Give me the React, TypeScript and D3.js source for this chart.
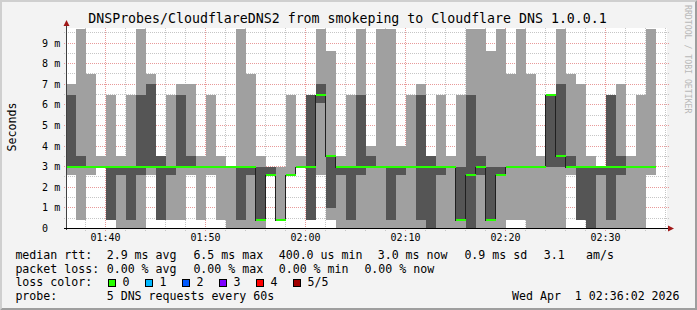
import React from "react";
import * as d3 from "d3";

const W = 697;
const H = 310;
const FONT = "'DejaVu Sans Mono', monospace";

const titleText = "DNSProbes/CloudflareDNS2 from smokeping to Cloudflare DNS 1.0.0.1";
const yAxisTitle = "Seconds";
const watermark = "RRDTOOL / TOBI OETIKER";

// time frame
const firstSample = new Date(2026, 3, 1, 1, 36, 0);
const graphStart = new Date(2026, 3, 1, 1, 36, 9);
const graphEnd = new Date(2026, 3, 1, 2, 36, 9);

// sorted pings per minute (ms): ping1 = fastest ... ping5 = slowest, ping3 = median
const ping1 = [2.6, 0.4, 2.6, 3.0, 0.4, 0, 0, 0, 2.6, 0.4, 0.4, 0.4, 2.6, 0.4, 2.6,
  0.4, 0, 0, 0, 0, 2.6, 0.4, 2.6, 3.0, 0.4, 2.6, 0.4, 0, 0,
  0, 0, 0, 0, 0, 0, 0, 0, 0, 0, 0, 0, 0, 0, 0,
  0.4, 0.4, 0, 0, 0, 0, 2.6, 0.4, 0, 0, 0, 0, 0, 0, 2.6];
const ping2 = [3.0, 3.0, 3.0, 3.0, 0.4, 2.6, 0.4, 2.6, 3.0, 0.4, 2.6, 3.0, 3.0, 3.0, 3.0,
  3.0, 3.0, 0.4, 2.6, 0.4, 2.6, 0.4, 2.6, 3.0, 0.4, 6.1, 1.0, 2.6, 0.4,
  2.6, 3.0, 3.0, 0.4, 2.6, 3.0, 0.4, 0, 2.6, 3.0, 0.4, 0, 2.6, 0.4, 2.6,
  3.0, 3.0, 3.0, 3.0, 3.0, 3.0, 3.0, 0.4, 0, 2.6, 0.4, 2.6, 3.0, 3.0, 3.0];
const ping3 = [3.0, 3.0, 3.0, 3.0, 3.0, 3.0, 3.0, 3.0, 3.0, 3.0, 3.0, 3.0, 3.0, 3.0, 3.0,
  3.0, 3.0, 3.0, 3.0, 0.4, 2.6, 0.4, 2.6, 3.0, 3.0, 6.5, 3.5, 3.0, 3.0,
  3.0, 3.0, 3.0, 3.0, 3.0, 3.0, 3.0, 3.0, 3.0, 3.0, 0.4, 2.6, 3.0, 0.4, 2.6,
  3.0, 3.0, 3.0, 3.0, 6.5, 3.5, 3.0, 3.0, 3.0, 3.0, 3.0, 3.0, 3.0, 3.0, 3.0];
const ping4 = [6.5, 3.5, 3.0, 3.0, 3.0, 3.0, 3.0, 6.5, 7.0, 3.5, 3.0, 6.5, 3.5, 3.0, 3.0,
  3.0, 3.0, 3.0, 3.0, 3.0, 3.0, 0.4, 2.6, 3.0, 6.5, 7.0, 3.5, 3.0, 3.0,
  6.5, 3.5, 3.0, 3.0, 3.0, 3.0, 6.5, 3.5, 3.0, 3.0, 3.0, 6.5, 3.5, 3.0, 3.0,
  3.0, 3.0, 3.0, 3.0, 6.5, 7.0, 3.5, 3.0, 3.0, 3.0, 6.5, 3.5, 3.0, 3.0, 3.0];
const ping5 = [7.0, 9.7, 7.5, 3.5, 6.5, 3.5, 6.5, 9.7, 7.5, 3.5, 6.5, 7.0, 7.0, 3.5, 6.5,
  3.5, 3.0, 9.7, 7.5, 3.5, 3.0, 3.0, 6.5, 3.5, 6.5, 9.7, 8.6, 3.5, 6.5,
  9.7, 4.0, 9.7, 9.7, 4.0, 6.5, 7.0, 3.5, 6.5, 3.5, 6.5, 9.7, 9.7, 8.6, 9.7,
  7.5, 9.7, 7.5, 3.5, 6.5, 9.7, 7.5, 7.0, 3.5, 3.0, 6.5, 7.0, 3.5, 6.5, 9.7];

const yMajorTicks = [0, 1, 2, 3, 4, 5, 6, 7, 8, 9];
const yMinorTicks = [0.5, 1.5, 2.5, 3.5, 4.5, 5.5, 6.5, 7.5, 8.5, 9.5];

const rttItems = ["median rtt:", "2.9 ms avg", "6.5 ms max", "400.0 us min", "3.0 ms now", "0.9 ms sd", "3.1", "am/s"];
const lossItems = ["packet loss:", "0.00 % avg", "0.00 % max", "0.00 % min", "0.00 % now"];
const lossColorLabels = ["0", "1", "2", "3", "4", "5/5"];
const lossColorValues = ["#26ff00", "#00b8ff", "#0059ff", "#7e00ff", "#ff0000", "#a10000"];
const probeText = "5 DNS requests every 60s";
const dateText = "Wed Apr  1 02:36:02 2026";

// layout
const PL = 67, PR = 667, PT = 28, PB = 228;
const rttX = [15.4, 106.7, 193.4, 278.7, 377.7, 464.4, 543.7, 586.1];
const lossX = [15.4, 106.7, 193.4, 278.7, 364.4];
const legendY = [259, 272.7, 286.4, 300.1];

const LIGHT = "#a0a0a0";
const DARK = "#555555";

export default function App() {
  const xs = d3.scaleTime().domain([graphStart, graphEnd]).range([PL, PR]);
  const ys = d3.scaleLinear().domain([0, 9.7087]).range([228.5, 28.5]);
  const crisp = (v: number) => Math.floor(v) + 0.5;

  const cols = ping3.map((m, i) => {
    const t0 = d3.timeMinute.offset(firstSample, i);
    const t1 = d3.timeMinute.offset(firstSample, i + 1);
    return { t0, t1, p1: ping1[i], p2: ping2[i], p3: m, p4: ping4[i], p5: ping5[i] };
  });

  const minorX = d3.timeMinute.every(2)!.range(graphStart, graphEnd).filter((d) => d.getMinutes() % 10 !== 0);
  const majorX = d3.timeMinute.every(10)!.range(graphStart, graphEnd);
  const fmt = d3.timeFormat("%H:%M");

  const medianPts: [number, number][] = cols.map((c) => [xs(c.t0), Math.round(ys(c.p3)) + 0.5]);
  medianPts.push([xs(cols[cols.length - 1].t1), Math.round(ys(cols[cols.length - 1].p3)) + 0.5]);
  const stepLine = d3.line().curve(d3.curveStepAfter)(medianPts) || "";

  const bx = (t: Date) => Math.max(PL, xs(t) + 0.5);

  return (
    <div style={{ position: "absolute", left: 0, top: 0 }}>
      <svg width={W} height={H} xmlns="http://www.w3.org/2000/svg" style={{ display: "block" }}>
        <rect x={0} y={0} width={W} height={H} fill="#f3f3f3" />
        <path d={`M0,0 H${W} L${W - 2},2 H2 V${H - 2} L0,${H} Z`} fill="#cfcfcf" />
        <path d={`M${W},0 V${H} H0 L2,${H - 2} H${W - 2} V2 Z`} fill="#9e9e9e" />

        <text x={347.5} y={23.3} textAnchor="middle" fontFamily={FONT} fontSize={13.25} fill="#000">{titleText}</text>
        <text transform={`translate(685,5) rotate(90)`} fontFamily={FONT} fontSize={8.2} fill="#b8b8b8">{watermark}</text>
        <text transform={`translate(15.5,127) rotate(-90)`} textAnchor="middle" fontFamily={FONT} fontSize={11.6} fill="#000">{yAxisTitle}</text>

        <rect x={PL} y={PT} width={PR - PL} height={PB - PT} fill="#ffffff" />

        <g shapeRendering="crispEdges" strokeDasharray="1,1" strokeWidth={1}>
          {yMinorTicks.map((v) => (
            <line key={"ym" + v} x1={64} x2={669} y1={crisp(ys(v))} y2={crisp(ys(v))} stroke="#c6c6c6" />
          ))}
          {yMajorTicks.filter((v) => v > 0).map((v) => (
            <line key={"yM" + v} x1={64} x2={669} y1={crisp(ys(v))} y2={crisp(ys(v))} stroke="#e89a9a" />
          ))}
          {minorX.map((t) => (
            <line key={"xm" + +t} x1={crisp(xs(t))} x2={crisp(xs(t))} y1={PT} y2={231} stroke="#c6c6c6" />
          ))}
          {majorX.map((t) => (
            <line key={"xM" + +t} x1={crisp(xs(t))} x2={crisp(xs(t))} y1={PT} y2={231} stroke="#e89a9a" />
          ))}
        </g>

        <g shapeRendering="crispEdges">
          {cols.map((c, i) => {
            const x0 = bx(c.t0), x1 = bx(c.t1);
            const yTop = Math.max(PT, Math.round(ys(c.p5))), yBot = Math.round(ys(c.p1));
            const dTop = Math.max(PT, Math.round(ys(c.p4))), dBot = Math.round(ys(c.p2));
            return (
              <g key={"c" + i}>
                {yBot > yTop && <rect x={x0} y={yTop} width={x1 - x0} height={yBot - yTop} fill={LIGHT} />}
                {dBot > dTop && <rect x={x0} y={dTop} width={x1 - x0} height={dBot - dTop} fill={DARK} />}
              </g>
            );
          })}
          <path d={stepLine} fill="none" stroke="#202020" strokeWidth={1} />
          {cols.map((c, i) => (
            <rect key={"g" + i} x={bx(c.t0)} y={Math.round(ys(c.p3)) - 1} width={bx(c.t1) - bx(c.t0)} height={2} fill={lossColorValues[0]} />
          ))}
        </g>

        <g shapeRendering="crispEdges">
          <line x1={crisp(PL) - 1} x2={crisp(PL) - 1} y1={PB + 2} y2={24} stroke="#404040" />
          <line x1={64} x2={669} y1={PB + 0.5} y2={PB + 0.5} stroke="#000" />
        </g>
        <path d={`M${PL - 0.5 - 3},${26} L${PL - 0.5},${20} L${PL - 0.5 + 3},${26} Z`} fill="#a01818" />
        <path d={`M668,${PB + 0.5 - 3} L674,${PB + 0.5} L668,${PB + 0.5 + 3} Z`} fill="#a01818" />

        {yMajorTicks.map((v) => (
          <text key={"yl" + v} x={42.1} y={crisp(ys(v)) + 3.6} fontFamily={FONT} fontSize={10} fill="#000" style={{ whiteSpace: "pre" }}>
            {v === 0 ? "0" : `${v} m`}
          </text>
        ))}
        {majorX.map((t) => (
          <text key={"xl" + +t} x={crisp(xs(t))} y={241} textAnchor="middle" fontFamily={FONT} fontSize={10} fill="#000">{fmt(t)}</text>
        ))}

        <g fontFamily={FONT} fontSize={11.6} fill="#000">
          {rttItems.map((s, i) => (
            <text key={"r" + i} x={rttX[i]} y={legendY[0]}>{s}</text>
          ))}
          {lossItems.map((s, i) => (
            <text key={"l" + i} x={lossX[i]} y={legendY[1]}>{s}</text>
          ))}
          <text x={15.4} y={legendY[2]}>loss color:</text>
          {lossColorLabels.map((s, i) => (
            <g key={"lc" + i}>
              <rect x={108.5 + 37 * i} y={279.5} width={7} height={7} fill={lossColorValues[i]} stroke="#000" strokeWidth={1} shapeRendering="crispEdges" />
              <text x={122.5 + 37 * i} y={legendY[2]}>{s}</text>
            </g>
          ))}
          <text x={15.4} y={legendY[3]}>probe:</text>
          <text x={106.7} y={legendY[3]}>{probeText}</text>
          <text x={512} y={legendY[3]} style={{ whiteSpace: "pre" }}>{dateText}</text>
        </g>
      </svg>
    </div>
  );
}
